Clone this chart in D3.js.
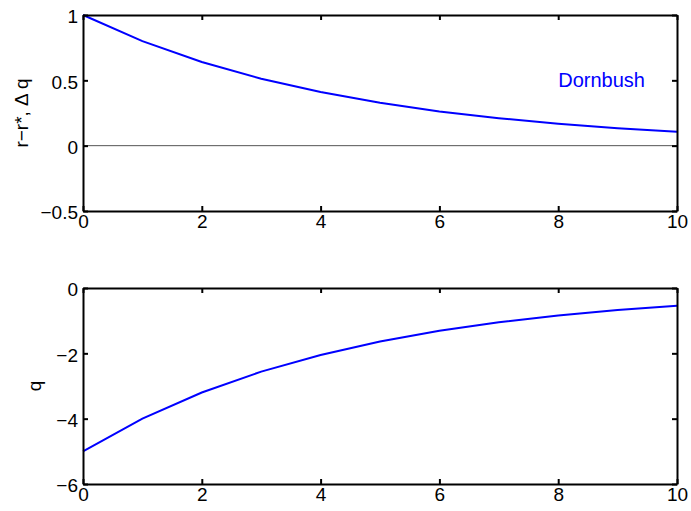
<!DOCTYPE html>
<html>
<head>
<meta charset="utf-8">
<script src="https://cdn.jsdelivr.net/npm/d3@7"></script>
<style>
  body { margin: 0; background: #fff; }
  svg text { font-family: "Liberation Sans", Arial, sans-serif; }
</style>
</head>
<body>
<div id="chart"></div>
<script>
// data
const periods = [0, 1, 2, 3, 4, 5, 6, 7, 8, 9, 10];
const rateGap = [1, 0.8, 0.64, 0.512, 0.41, 0.328, 0.262, 0.21, 0.168, 0.134, 0.107];
const qLevel = [-5, -4, -3.2, -2.56, -2.05, -1.64, -1.31, -1.05, -0.84, -0.67, -0.54];
const xTicks = [0, 2, 4, 6, 8, 10];
const topTicks = [-0.5, 0, 0.5, 1];
const bottomTicks = [-6, -4, -2, 0];

const width = 691, height = 511;
const left = 83, right = 677;
const fs = 19;

const svg = d3.select("#chart").append("svg")
  .attr("width", width)
  .attr("height", height);

const x = d3.scaleLinear().domain([0, 10]).range([left, right]);

function panel(top, bottom, yDomain, yTicks, values, ylabel, labelX) {
  const y = d3.scaleLinear().domain(yDomain).range([bottom, top]);
  const g = svg.append("g");

  // zero line
  if (yDomain[0] < 0 && yDomain[1] > 0) {
    g.append("line")
      .attr("x1", x(0)).attr("x2", x(10))
      .attr("y1", y(0)).attr("y2", y(0))
      .attr("stroke", "#555").attr("stroke-width", 1);
  }

  const line = d3.line().x((d, i) => x(periods[i])).y(d => y(d));
  g.append("path")
    .datum(values)
    .attr("d", line)
    .attr("fill", "none")
    .attr("stroke", "#0000ff")
    .attr("stroke-width", 2);

  // axes, ticks pointing in
  const ax = (a) => a.tickSizeInner(-5).tickSizeOuter(0).tickPadding(8);
  const bot = g.append("g").attr("transform", `translate(0,${bottom})`)
    .call(ax(d3.axisBottom(x).tickValues(xTicks).tickFormat(d3.format(""))));
  const tp = g.append("g").attr("transform", `translate(0,${top})`)
    .call(ax(d3.axisTop(x).tickValues(xTicks).tickFormat("")));
  const lf = g.append("g").attr("transform", `translate(${left},0)`)
    .call(ax(d3.axisLeft(y).tickValues(yTicks).tickFormat(d => String(d).replace("-", "\u2212"))));
  const rt = g.append("g").attr("transform", `translate(${right},0)`)
    .call(ax(d3.axisRight(y).tickValues(yTicks).tickFormat("")));

  [bot, tp, lf, rt].forEach(a => {
    a.attr("font-size", fs).attr("font-family", null);
    a.select(".domain").attr("stroke", "#000").attr("stroke-width", 2);
    a.selectAll(".tick line").attr("stroke", "#000").attr("stroke-width", 2);
    a.selectAll(".tick text").attr("fill", "#000");
  });
  lf.selectAll(".tick text").attr("x", -5).attr("dy", "0.42em");
  bot.selectAll(".tick text").attr("y", 4);

  g.append("text")
    .attr("transform", `translate(${labelX},${(top + bottom) / 2}) rotate(-90)`)
    .attr("text-anchor", "middle")
    .attr("font-size", fs)
    .text(ylabel);

  return y;
}

const y1 = panel(15, 211, [-0.5, 1], topTicks, rateGap, "r\u2212r*, \u0394 q", 28);
panel(288, 484, [-6, 0], bottomTicks, qLevel, "q", 41);

svg.append("text")
  .attr("x", x(8)).attr("y", y1(0.45))
  .attr("font-size", 20)
  .attr("fill", "#0000ff")
  .text("Dornbush");
</script>
</body>
</html>
